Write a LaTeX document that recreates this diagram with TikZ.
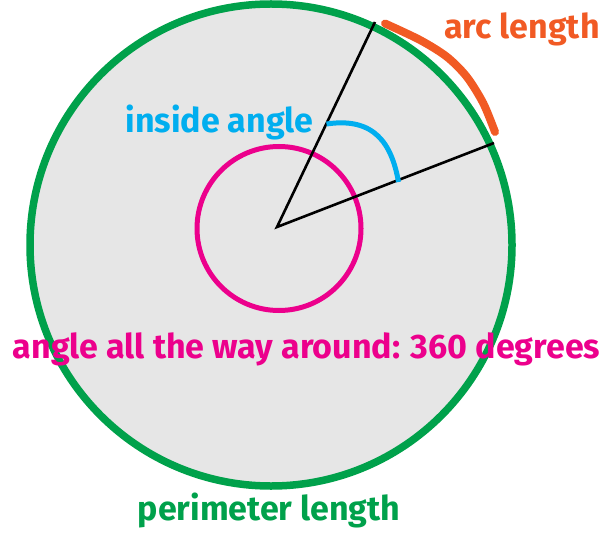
\documentclass[tikz,border=0pt]{standalone}
\usepackage{fontspec}
\setmainfont{Fira Sans}
\usepackage{tikz}
\usetikzlibrary{positioning}
\definecolor{rimgreen}{RGB}{0,161,75}
\definecolor{arcorange}{RGB}{241,90,36}
\definecolor{anglecyan}{RGB}{0,174,239}
\definecolor{turnmagenta}{RGB}{236,0,140}
\definecolor{diskgray}{RGB}{230,230,230}

\begin{document}
\begin{tikzpicture}[x=1pt, y=-1pt,
    caption/.style={font=\fontsize{34}{40}\selectfont\bfseries, inner sep=0pt, anchor=base}]
  \useasboundingbox (0,0) rectangle (604,537);

  % Disk and perimeter
  \coordinate (O) at (271,245);
  \fill[diskgray] (O) circle (241pt);
  \draw[rimgreen, line width=7.5pt] (O) circle (241pt);

  % Full turn
  \coordinate (C) at (279,228.5);
  \draw[turnmagenta, line width=5pt] (C) circle (82pt);

  % Radii
  \coordinate (V) at (277,227);
  \coordinate (A) at (375,22);
  \coordinate (B) at (494,143);
  \draw[line width=2.6pt, line join=miter] (A) -- (V) -- (B);

  % Inside angle
  \draw[anglecyan, line width=5pt]
    (326.5,124) .. controls (374.7,116.8) and (391.7,143.9) .. (398.5,182);

  % Arc length
  \draw[arcorange, line width=8pt, line cap=round]
    plot[smooth] coordinates {(385,23.5) (420,40) (446.7,56.7) (466.7,76.7) (483.3,103.3) (495,132)};

  % Labels
  \node[caption, arcorange] (arclabel) at (522,39) {arc length};
  \node[caption, anglecyan] (insidelabel) at (219.5,133) {inside angle};
  \node[caption, turnmagenta] (turnlabel) at (306.5,358) {angle all the way around: 360 degrees};
  \node[caption, rimgreen] (perimlabel) at (269,520) {perimeter length};
\end{tikzpicture}
\end{document}
